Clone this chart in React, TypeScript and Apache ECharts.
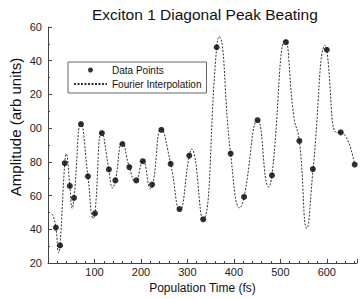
import React, { useEffect, useRef } from "react";
import * as echarts from "echarts";

const titleText = "Exciton 1 Diagonal Peak Beating";
const xName = "Population Time (fs)";
const yName = "Amplitude (arb units)";
const seriesNames = ["Data Points", "Fourier Interpolation"];

const pointTimes = [17, 26, 36, 47, 56, 71, 86, 101, 116, 131, 145, 160, 175, 190, 204, 224, 244, 264, 283, 304, 334, 363, 393, 422, 451, 482, 512, 541, 570, 600, 630, 660];
const pointValues = [41, 30.4, 79.2, 65.7, 58.6, 102.4, 71.4, 49.4, 97.1, 75.5, 69, 90.6, 76.9, 69, 80.4, 66.5, 99, 78.8, 52, 83.7, 45.9, 148, 84.9, 59.2, 104.7, 72, 151, 92.4, 75.7, 146.5, 97.5, 78.4];

const curveTimes = [8, 11, 17, 23, 26, 36, 39, 47, 52, 56, 71, 86, 97.5, 101, 116, 131, 139, 145, 160, 175, 188, 204.5, 221, 226, 244, 264, 283.5, 304, 309, 333, 363, 368, 393, 413, 422, 451.5, 475, 482, 511, 529, 541, 557, 570.5, 597, 600, 621, 630, 660];
const curveValues = [49, 48, 41, 26, 30.4, 79.2, 84.7, 65.7, 52.4, 58.6, 103, 71.4, 46.5, 49.4, 97.8, 75.5, 64.5, 69, 91.6, 76.9, 68, 80.8, 64, 67, 99.4, 78.8, 51.4, 83.7, 87.6, 45.5, 148, 154.3, 84.9, 52.7, 59.2, 104.9, 65.1, 72, 152.4, 107, 92.4, 40.6, 75.7, 149, 146.5, 97.5, 97.5, 78.4];

const FONT = "Liberation Sans, Arial, sans-serif";

export default function App() {
  const ref = useRef<HTMLDivElement>(null);
  useEffect(() => {
    document.body.style.margin = "0";
    if (!ref.current) return;
    const chart = echarts.init(ref.current, null, { renderer: "svg" });
    chart.setOption({
      animation: false,
      backgroundColor: "#fff",
      textStyle: { fontFamily: FONT },
      title: {
        text: titleText,
        left: 87,
        top: 1,
        textStyle: { fontSize: 15.5, fontWeight: "normal", color: "#111", fontFamily: FONT },
      },
      legend: {
        orient: "vertical",
        left: 68,
        top: 62,
        padding: [3, 5, 4, 5],
        itemGap: 4,
        itemWidth: 33,
        itemHeight: 5,
        borderColor: "#666",
        borderWidth: 1,
        backgroundColor: "#fff",
        textStyle: { fontSize: 10, color: "#111", fontFamily: FONT },
        data: [
          { name: seriesNames[0] },
          { name: seriesNames[1], itemStyle: { opacity: 0 } },
        ],
      },
      graphic: [
        {
          type: "text",
          x: 15,
          y: 127,
          rotation: Math.PI / 2,
          style: {
            text: yName,
            fontSize: 15,
            fontFamily: FONT,
            fill: "#111",
            textAlign: "center",
            textVerticalAlign: "middle",
          },
        },
      ],
      grid: { left: 48, right: 2, top: 27, bottom: 34, containLabel: false },
      xAxis: {
        type: "value",
        min: 0,
        max: 665,
        interval: 100,
        name: xName,
        nameLocation: "middle",
        nameGap: 19,
        nameTextStyle: { fontSize: 12, color: "#111", fontFamily: FONT },
        axisLine: { lineStyle: { color: "#444" } },
        axisTick: { inside: true, length: 4, lineStyle: { color: "#444" } },
        minorTick: { show: true, splitNumber: 5, length: 2, lineStyle: { color: "#444" } },
        splitLine: { show: false },
        axisLabel: {
          fontSize: 11,
          color: "#222",
          margin: 3,
          formatter: (v: number) => (v > 0 && v % 100 === 0 ? String(v) : ""),
        },
      },
      yAxis: {
        type: "value",
        min: 20,
        max: 160,
        interval: 20,
        axisLine: { show: true, lineStyle: { color: "#444" } },
        axisTick: { show: true, inside: true, length: 4, lineStyle: { color: "#444" } },
        minorTick: { show: true, splitNumber: 2, length: 2, lineStyle: { color: "#444" } },
        splitLine: { show: false },
        axisLabel: {
          fontSize: 11,
          color: "#222",
          margin: 6,
          formatter: (v: number) => String(v % 100).padStart(2, "0"),
        },
      },
      series: [
        {
          name: seriesNames[1],
          type: "line",
          data: curveTimes.map((t, i) => [t, curveValues[i]]),
          smooth: 0.5,
          symbol: "none",
          lineStyle: { color: "#333", width: 1, type: [2, 1.5] },
          z: 2,
        },
        {
          name: seriesNames[0],
          type: "scatter",
          data: pointTimes.map((t, i) => [t, pointValues[i]]),
          symbol: "circle",
          symbolSize: 6,
          itemStyle: { color: "#000" },
          z: 3,
        },
      ],
    });
    return () => chart.dispose();
  }, []);
  return <div ref={ref} style={{ width: 360, height: 299 }} />;
}
